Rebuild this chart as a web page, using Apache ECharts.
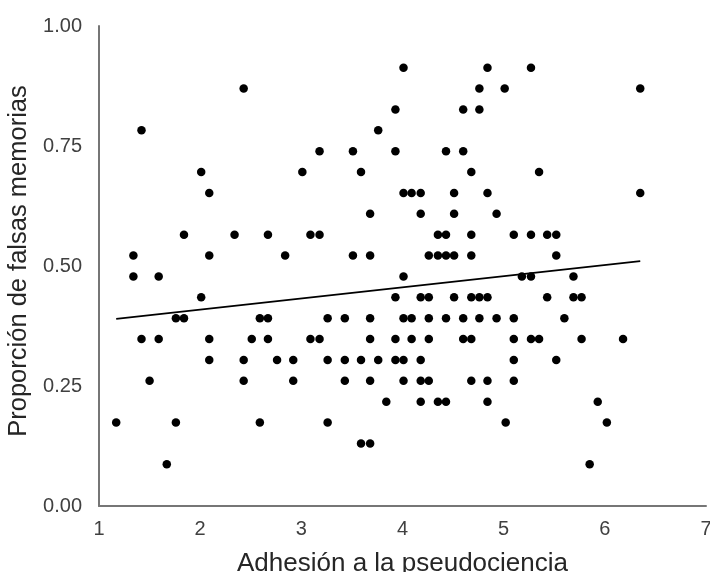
<!DOCTYPE html>
<html>
<head>
<meta charset="utf-8">
<script src="https://cdn.jsdelivr.net/npm/echarts@6/dist/echarts.min.js"></script>
<style>html,body{margin:0;padding:0;background:#fff}#c{width:710px;height:572px}</style>
</head>
<body>
<div id="c"></div>
<script>
// Scatter points: x = Adhesión a la pseudociencia, y = Proporción de falsas memorias
var xs = [
  4.01, 4.84, 5.27,
  2.43, 4.76, 5.01, 6.35,
  3.93, 4.60, 4.76,
  1.42, 3.76,
  3.18, 3.51, 3.93, 4.43, 4.60,
  2.01, 3.01, 3.59, 4.68, 5.35,
  2.09, 4.01, 4.09, 4.18, 4.51, 4.84, 6.35,
  3.68, 4.18, 4.51, 4.93,
  1.84, 2.34, 2.67, 3.09, 3.18, 4.35, 4.43, 4.68, 5.10, 5.27, 5.43, 5.52,
  1.34, 2.09, 2.84, 3.51, 3.68, 4.26, 4.35, 4.43, 4.51, 4.68, 5.52,
  1.34, 1.59, 4.01, 5.18, 5.27, 5.69,
  2.01, 3.93, 4.18, 4.26, 4.51, 4.68, 4.76, 4.84, 5.43, 5.69, 5.77,
  1.76, 1.84, 2.59, 2.67, 3.26, 3.43, 3.68, 4.01, 4.09, 4.26, 4.43, 4.60, 4.76, 4.93, 5.10, 5.60,
  1.42, 1.59, 2.09, 2.51, 2.67, 3.09, 3.18, 3.68, 3.93, 4.09, 4.26, 4.60, 4.68, 5.10, 5.27, 5.35, 5.77, 6.18,
  2.09, 2.43, 2.76, 2.92, 3.26, 3.43, 3.59, 3.76, 3.93, 4.01, 4.18, 5.10, 5.52,
  1.50, 2.43, 2.92, 3.43, 3.68, 4.01, 4.18, 4.26, 4.68, 4.84, 5.10,
  3.84, 4.18, 4.35, 4.43, 4.84, 5.93,
  1.17, 1.76, 2.59, 3.26, 5.02, 6.02,
  3.59, 3.68,
  1.67, 5.85
];
var ys = [
  0.913, 0.913, 0.913,
  0.870, 0.870, 0.870, 0.870,
  0.826, 0.826, 0.826,
  0.783, 0.783,
  0.739, 0.739, 0.739, 0.739, 0.739,
  0.696, 0.696, 0.696, 0.696, 0.696,
  0.652, 0.652, 0.652, 0.652, 0.652, 0.652, 0.652,
  0.609, 0.609, 0.609, 0.609,
  0.565, 0.565, 0.565, 0.565, 0.565, 0.565, 0.565, 0.565, 0.565, 0.565, 0.565, 0.565,
  0.522, 0.522, 0.522, 0.522, 0.522, 0.522, 0.522, 0.522, 0.522, 0.522, 0.522,
  0.478, 0.478, 0.478, 0.478, 0.478, 0.478,
  0.435, 0.435, 0.435, 0.435, 0.435, 0.435, 0.435, 0.435, 0.435, 0.435, 0.435,
  0.391, 0.391, 0.391, 0.391, 0.391, 0.391, 0.391, 0.391, 0.391, 0.391, 0.391, 0.391, 0.391, 0.391, 0.391, 0.391,
  0.348, 0.348, 0.348, 0.348, 0.348, 0.348, 0.348, 0.348, 0.348, 0.348, 0.348, 0.348, 0.348, 0.348, 0.348, 0.348, 0.348, 0.348,
  0.304, 0.304, 0.304, 0.304, 0.304, 0.304, 0.304, 0.304, 0.304, 0.304, 0.304, 0.304, 0.304,
  0.261, 0.261, 0.261, 0.261, 0.261, 0.261, 0.261, 0.261, 0.261, 0.261, 0.261,
  0.217, 0.217, 0.217, 0.217, 0.217, 0.217,
  0.174, 0.174, 0.174, 0.174, 0.174, 0.174,
  0.130, 0.130,
  0.087, 0.087
];
// Linear trend line endpoints
var trendX = [1.17, 6.35];
var trendY = [0.39, 0.51];

var xTicks = [1, 2, 3, 4, 5, 6, 7];
var yTicks = ['0.00', '0.25', '0.50', '0.75', '1.00'];
var xName = 'Adhesión a la pseudociencia';
var yName = 'Proporción de falsas memorias';

var points = xs.map(function (x, i) { return [x, ys[i]]; });
var trend = trendX.map(function (x, i) { return [x, trendY[i]]; });

var chart = echarts.init(document.getElementById('c'), null, { renderer: 'canvas' });
var font = '"Liberation Sans", Arial, sans-serif';
chart.setOption({
  animation: false,
  backgroundColor: '#ffffff',
  textStyle: { fontFamily: font },
  grid: { left: 99, right: 4, top: 26, bottom: 66, containLabel: false, outerBoundsMode: 'none' },
  xAxis: {
    type: 'value', min: xTicks[0], max: xTicks[xTicks.length - 1], interval: 1,
    name: xName, nameLocation: 'middle', nameGap: 45,
    nameTextStyle: { fontSize: 26, color: '#262626', fontFamily: font },
    axisLine: { show: true, lineStyle: { color: '#767676', width: 2 } },
    axisTick: { show: false },
    splitLine: { show: false },
    axisLabel: { fontSize: 20, color: '#404040', margin: 13, fontFamily: font,
      formatter: function (v) { return String(v); } }
  },
  yAxis: {
    type: 'value', min: 0, max: 1, interval: 0.25,
    name: yName, nameLocation: 'middle', nameGap: 56,
    nameTextStyle: { fontSize: 25.5, color: '#262626', fontFamily: font, padding: [0, 0, 0, 10] },
    axisLine: { show: true, lineStyle: { color: '#767676', width: 2 } },
    axisTick: { show: false },
    splitLine: { show: false },
    axisLabel: { fontSize: 20, color: '#404040', margin: 17, fontFamily: font,
      formatter: function (v) { return yTicks[Math.round(v / 0.25)]; } }
  },
  series: [
    {
      type: 'scatter', data: points, symbol: 'circle', symbolSize: 8.5,
      itemStyle: { color: '#000000', opacity: 1 }, z: 3
    },
    {
      type: 'line', data: trend, symbol: 'none',
      lineStyle: { color: '#000000', width: 1.8 }, z: 4
    }
  ]
});
</script>
</body>
</html>
